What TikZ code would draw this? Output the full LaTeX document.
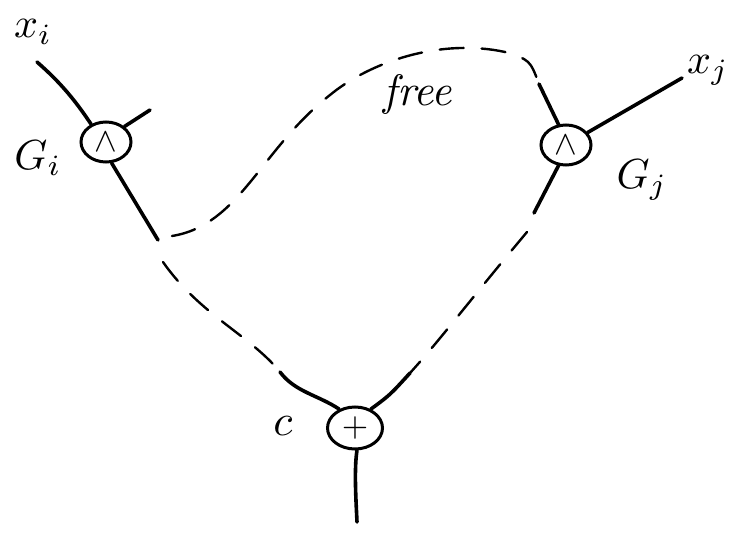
\documentclass[tikz,border=0pt]{standalone}
\usepackage{graphicx}
\usetikzlibrary{shapes.geometric}
\begin{document}
\begin{tikzpicture}[x=1pt,y=-1pt,
  gate/.style={ellipse,draw,line width=3pt,minimum width=50pt,minimum height=40pt,inner sep=0pt},
  wire/.style={line width=3.6pt,line cap=round},
  dwire/.style={line width=2.4pt,line cap=round,dash pattern=on 24pt off 18pt}]
\useasboundingbox (0,0) rectangle (746,540);
\node[gate] (Gi) at (106,142) {\scalebox{3.4}{$\wedge$}};
\node[gate] (Gj) at (566,145) {\scalebox{3.4}{$\wedge$}};
\node[gate,minimum width=55pt,minimum height=42pt] (C) at (355,428) {\scalebox{3.4}{$+$}};
\node (xi) at (33,32) {\scalebox{4.2}{$x_i$}};
\node (xj) at (708,70) {\scalebox{4.2}{$x_j$}};
\node (gil) at (38,158) {\scalebox{4.2}{$G_i$}};
\node (gjl) at (642,180) {\scalebox{4.2}{$G_j$}};
\node (cl) at (283,426) {\scalebox{4.4}{$c$}};
\node (free) at (418,95) {\scalebox{4.4}{\itshape free}};
\coordinate (xie) at (37,62);
\coordinate (stub) at (150,110);
\coordinate (gib) at (158,240);
\coordinate (xje) at (682,78);
\coordinate (gjt) at (539,84);
\coordinate (gjb) at (534,213);
\coordinate (cl1) at (280,372);
\coordinate (cr1) at (410,373);
\coordinate (cb) at (357,522);
\coordinate (fs) at (172,236);
\coordinate (ds1) at (163,262);
\coordinate (ds2) at (527,232);
\draw[wire] (xie) .. controls (60,82) and (75,100) .. (Gi.130);
\draw[wire] (Gi.40) -- (stub);
\draw[wire] (Gi.-75) -- (gib);
\draw[wire] (Gj.30) -- (xje);
\draw[wire] (Gj.110) -- (gjt);
\draw[wire] (Gj.-110) -- (gjb);
\draw[wire] (cl1) .. controls (295,392) and (318,395) .. (C.130);
\draw[wire] (C.50) .. controls (390,395) .. (cr1);
\draw[wire] (C.-85) .. controls (354,470) and (356,500) .. (cb);
\draw[dwire] (fs) .. controls (240,225) and (260,150) .. (330,95)
  .. controls (370,62) and (440,38) .. (505,52) .. controls (530,60) .. (gjt);
\draw[dwire] (ds1) .. controls (200,315) and (250,335) .. (cl1);
\draw[dwire] (ds2) .. controls (470,300) and (440,340) .. (cr1);
\end{tikzpicture}
\end{document}
